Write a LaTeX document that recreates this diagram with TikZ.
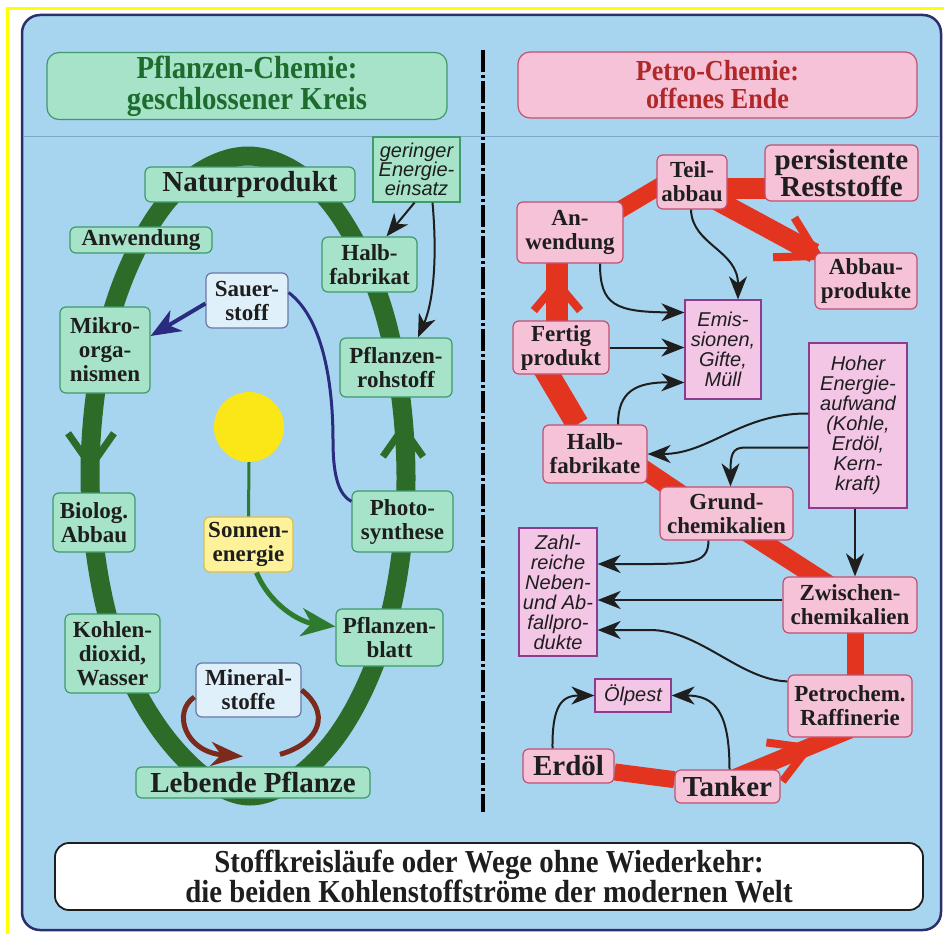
\documentclass[tikz,border=0pt]{standalone}
\usepackage{fontspec}
\setmainfont{Liberation Serif}
\newfontfamily\condfont[FakeStretch=0.9]{Liberation Serif}
\newfontfamily\isans{Liberation Sans}
\usetikzlibrary{arrows.meta,calc}
\pgfdeclarelayer{back}\pgfdeclarelayer{mid}\pgfsetlayers{back,mid,main}
\definecolor{cBg}{HTML}{A7D4EF}
\definecolor{cPanelbd}{HTML}{2C2F6E}
\definecolor{cYel}{HTML}{FFFF00}
\definecolor{cSep}{HTML}{7FA6C6}
\definecolor{ink}{HTML}{1E1E1E}
\definecolor{mint}{HTML}{A6E3C8}
\definecolor{mintbd}{HTML}{3F9A6C}
\definecolor{ltblue}{HTML}{E0F0FB}
\definecolor{ltbd}{HTML}{6A78A8}
\definecolor{ylw}{HTML}{FDF29A}
\definecolor{ybd}{HTML}{D8C050}
\definecolor{cSun}{HTML}{FBE617}
\definecolor{pink}{HTML}{F6C2D8}
\definecolor{pinkbd}{HTML}{C4506E}
\definecolor{pinkb}{HTML}{F3C6E6}
\definecolor{purplebd}{HTML}{8C3C8C}
\definecolor{cGband}{HTML}{2D6B29}
\definecolor{cGsun}{HTML}{2E7A2E}
\definecolor{cRed}{HTML}{E3341F}
\definecolor{cNavy}{HTML}{2B2B80}
\definecolor{cBrown}{HTML}{7B2A1C}
\definecolor{hgreen}{HTML}{1E6B2E}
\definecolor{hred}{HTML}{B02828}
\newcommand\fLbl{\fontsize{23}{24}\selectfont\bfseries}
\newcommand\fBig{\fontsize{29}{27}\selectfont\bfseries}
\newcommand\fIt{\isans\itshape\fontsize{20}{20}\selectfont}
\newcommand\fHl{\condfont\bfseries\fontsize{32}{31}\selectfont}
\newcommand\fHr{\condfont\bfseries\fontsize{29}{28}\selectfont}
\newcommand\fTitle{\condfont\bfseries\fontsize{32}{29}\selectfont}
\begin{document}
\begin{tikzpicture}[x=1pt,y=-1pt,
  box/.style={align=center,inner sep=0pt,text=ink,line width=1.2pt},
  sz/.style 2 args={minimum width=#1pt,minimum height=#2pt},
  gbox/.style={box,draw=mintbd,fill=mint,rounded corners=6pt,font=\fLbl},
  bbox/.style={box,draw=ltbd,fill=ltblue,rounded corners=6pt,font=\fLbl},
  ybox/.style={box,draw=ybd,fill=ylw,rounded corners=6pt,font=\fLbl},
  pbox/.style={box,draw=pinkbd,fill=pink,rounded corners=6pt,font=\fLbl},
  ibox/.style={box,draw=purplebd,fill=pinkb,font=\fIt},
  gibox/.style={box,draw=mintbd,fill=mint,font=\fIt},
  barrow/.style={draw=ink,line width=2pt,-{Stealth[length=23pt,width=18pt,inset=7pt]}},
  navyarrow/.style={draw=cNavy,line width=4pt,-{Stealth[length=30pt,width=24pt,inset=9pt]}},
  navyline/.style={draw=cNavy,line width=3pt},
  sunarrow/.style={draw=cGsun,line width=5pt,-{Stealth[length=34pt,width=28pt,inset=10pt]}},
  sunline/.style={draw=cGsun,line width=3pt},
  minarrow/.style={draw=cBrown,line width=5pt,-{Stealth[length=32pt,width=24pt,inset=10pt]}},
  minline/.style={draw=cBrown,line width=5pt},
  gloop/.style={draw=cGband,line width=19pt},
  gchev/.style={draw=cGband,line width=7pt},
  rband/.style={draw=cRed,line width=#1pt},
  rchev/.style={draw=cRed,line width=8pt},
  divider/.style={draw=black,line width=4pt,dash pattern=on 22pt off 3pt on 3pt off 3pt}
]
\useasboundingbox (0,0) rectangle (944,934);
\begin{pgfonlayer}{back}
  \fill[white] (0,0) rectangle (944,934);
  \draw[draw=cYel,line width=3pt] (7,934) -- (7,9) -- (944,9);
  \draw[draw=cPanelbd,line width=2.5pt,fill=cBg,rounded corners=18pt] (22,15) rectangle (941,930);
  \draw[draw=cSep,line width=1pt] (24,136) -- (939,136);
  \draw[divider] (483,50) -- (483,812);
\end{pgfonlayer}

% headers
\node[box,draw=mintbd,fill=mint,rounded corners=12pt,sz={400}{67},font=\fHl,text=hgreen] (hl) at (247,86) {Pflanzen-Chemie:\\geschlossener Kreis};
\node[box,draw=pinkbd,fill=pink,rounded corners=12pt,sz={399}{66},font=\fHr,text=hred] (hr) at (717.5,85) {Petro-Chemie:\\offenes Ende};

% left nodes
\node[gbox,sz={210}{35},font=\fBig] (natur) at (250,184.5) {Naturprodukt};
\node[gibox,sz={87}{65},font=\isans\itshape\fontsize{20}{19}\selectfont] (ger) at (416.5,169.5) {geringer\\Energie-\\einsatz};
\node[gbox,sz={142}{26}] (lanw) at (141,240) {Anwendung};
\node[gbox,sz={95}{55}] (lhalb) at (369.5,264.5) {Halb-\\fabrikat};
\node[bbox,sz={82}{55}] (sauer) at (247,300.5) {Sauer-\\stoff};
\node[gbox,sz={90}{86}] (mikro) at (105,350) {Mikro-\\orga-\\nismen};
\node[gbox,sz={112}{59}] (roh) at (396,367.5) {Pflanzen-\\rohstoff};
\node[circle,fill=cSun,minimum size=70pt,inner sep=0pt] (sun) at (249,427) {};
\node[gbox,sz={82}{59}] (bio) at (94,522.5) {Biolog.\\Abbau};
\node[gbox,sz={101}{61}] (photo) at (402.5,521.5) {Photo-\\synthese};
\node[ybox,sz={89}{55}] (sonne) at (248.5,544.5) {Sonnen-\\energie};
\node[gbox,sz={107}{57}] (blatt) at (389.5,637.5) {Pflanzen-\\blatt};
\node[gbox,sz={95}{79}] (kohle) at (112.5,653.5) {Kohlen-\\dioxid,\\Wasser};
\node[bbox,sz={105}{54}] (mineral) at (248.5,690) {Mineral-\\stoffe};
\node[gbox,sz={234}{31},font=\fBig] (leb) at (253,782.5) {Lebende Pflanze};

% right nodes
\node[pbox,sz={70}{54}] (teil) at (692,182) {Teil-\\abbau};
\node[pbox,sz={153}{56},font=\fBig] (pers) at (841.5,173) {persistente\\Reststoffe};
\node[pbox,sz={106}{61}] (ranw) at (570,232.5) {An-\\wendung};
\node[pbox,sz={102}{56}] (abb) at (866,281) {Abbau-\\produkte};
\node[ibox,sz={76}{99}] (emis) at (723,349.5) {Emis-\\sionen,\\Gifte,\\Müll};
\node[pbox,sz={96}{53}] (fert) at (561,347.5) {Fertig\\produkt};
\node[ibox,sz={98}{165}] (hoher) at (858,425.5) {Hoher\\Energie-\\aufwand\\(Kohle,\\Erdöl,\\Kern-\\kraft)};
\node[pbox,sz={104}{58}] (rhalb) at (595,454) {Halb-\\fabrikate};
\node[pbox,sz={133}{53}] (grund) at (726.5,513.5) {Grund-\\chemikalien};
\node[ibox,sz={78}{128}] (zahl) at (558,592) {Zahl-\\reiche\\Neben-\\und Ab-\\fallpro-\\dukte};
\node[pbox,sz={134}{56}] (zw) at (850,605) {Zwischen-\\chemikalien};
\node[ibox,sz={76}{33}] (oel) at (633,695.5) {Ölpest};
\node[pbox,sz={124}{62}] (raff) at (850,706) {Petrochem.\\Raffinerie};
\node[pbox,sz={91}{34},font=\fBig] (erd) at (568.5,766) {Erdöl};
\node[pbox,sz={105}{33},font=\fBig] (tank) at (727.5,786.5) {Tanker};

% bottom title
\node[box,draw=ink,fill=white,line width=1.8pt,rounded corners=14pt,sz={868}{67},font=\fTitle] (title) at (489,876.5) {Stoffkreisläufe oder Wege ohne Wiederkehr:\\die beiden Kohlenstoffströme der modernen Welt};

% bands
\begin{pgfonlayer}{mid}
  \draw[gloop] plot[smooth cycle,tension=0.6] coordinates {(248,156) (327,199) (385,316) (406,476) (386,630) (330,745) (250,796) (172,745) (112,632) (90,476) (111,316) (169,199)};
  \coordinate (g1) at (91,466);
  \coordinate (g2) at (403,428);
  \draw[gchev] ($(g1)+(-55:40)$) -- (g1) -- ($(g1)+(-125:40)$);
  \draw[gchev] ($(g2)+(55:35)$) -- (g2) -- ($(g2)+(125:35)$);
  \draw[rband=17] (erd) -- (tank);
  \draw[rband=17] ($(tank)+(0,-6)$) -- ($(raff)+(0,24)$);
  \draw[rband=17] ($(raff)+(5,0)$) -- ($(zw)+(5,0)$);
  \draw[rband=19] ($(zw)+(10,0)$) -- ($(grund)+(-8.5,0)$);
  \draw[rband=19] ($(rhalb)+(5,-14)$) -- ($(grund)+(0,11.5)$);
  \draw[rband=23] ($(fert)+(-29,0)$) -- (rhalb);
  \draw[rband=22] ($(fert)+(-4,0)$) -- ($(ranw)+(-13,0)$);
  \draw[rband=17] ($(ranw)+(0,7)$) -- ($(teil)+(0,-15)$);
  \draw[rband=21] ($(teil)+(0,6)$) -- ($(pers)+(0,15)$);
  \draw[rband=20] ($(teil)+(0,5)$) -- (abb);
  \coordinate (c1) at (557,283);
  \coordinate (c2) at (818,256);
  \coordinate (c3) at (808,748);
  \draw[rchev] ($(c1)+(50:36)$) -- (c1) -- ($(c1)+(130:36)$);
  \draw[rchev] ($(c2)+(178.4:45)$) -- (c2) -- ($(c2)+(238.4:45)$);
  \draw[rchev] ($(c3)+(127.6:42)$) -- (c3) -- ($(c3)+(187.6:42)$);
\end{pgfonlayer}

% left connectors
\draw[barrow] ($(ger.south)+(-2,0)$) -- ($(lhalb.north)+(17,0)$);
\draw[barrow] ($(ger.south)+(16,0)$) .. controls (438,265) and (432,305) .. ($(roh.north)+(22,0)$);
\draw[navyarrow] ($(sauer.west)+(0,3)$) -- ($(mikro.east)+(0,-14)$);
\draw[navyline] ($(sauer.east)+(0,-8)$) .. controls (325,320) and (333,390) .. (333,440) .. controls (333,480) and (340,495) .. ($(photo.west)+(0,-20)$);
\draw[sunline] (sun.south) -- (sonne.north);
\draw[sunarrow] ($(sonne.south)+(8,0)$) .. controls (270,605) and (300,622) .. ($(blatt.west)+(0,-11)$);
\draw[minarrow] ($(mineral.west)+(-1,7)$) .. controls (172,712) and (185,752) .. ($(leb.north)+(-10,-10)$);
\draw[minline] ($(leb.north)+(27,-12)$) .. controls (322,742) and (330,712) .. (mineral.east);

% right connectors
\draw[barrow] ($(teil.south)+(-1,0)$) .. controls (692,245) and (738,250) .. ($(emis.north)+(15,0)$);
\draw[barrow] ($(ranw.south)+(30,0)$) .. controls (600,305) and (615,312) .. ($(emis.west)+(0,-37)$);
\draw[barrow] (fert.east) -- (fert.east -| emis.west);
\draw[barrow] ($(rhalb.north)+(23,0)$) .. controls (618,392) and (635,382) .. ($(emis.west)+(0,33)$);
\draw[barrow] ($(hoher.west)+(0,-12)$) .. controls (740,413) and (710,454) .. (rhalb.east);
\draw[barrow] ($(hoher.west)+(0,22)$) -- (745,447.5) .. controls (732,447.5) and (730.5,455) .. ($(grund.north)+(4,0)$);
\coordinate (hs) at ($(hoher.south)+(-3,0)$);
\draw[barrow] (hs) -- (hs |- zw.north);
\draw[barrow] ($(grund.south)+(-18,0)$) .. controls (708,566) and (690,564) .. ($(zahl.east)+(0,-28)$);
\coordinate (zs) at ($(zw.west)+(0,-5)$);
\draw[barrow] (zs) -- (zs -| zahl.east);
\draw[barrow] ($(raff.north west)+(0,7)$) .. controls (740,680) and (700,630) .. (650,630) -- ($(zahl.east)+(0,38)$);
\draw[barrow] ($(erd.north)+(-16,0)$) .. controls (552,705) and (562,695.5) .. (oel.west);
\draw[barrow] ($(tank.north)+(2,0)$) .. controls (729.5,712) and (715,695.5) .. (oel.east);
\end{tikzpicture}
\end{document}
